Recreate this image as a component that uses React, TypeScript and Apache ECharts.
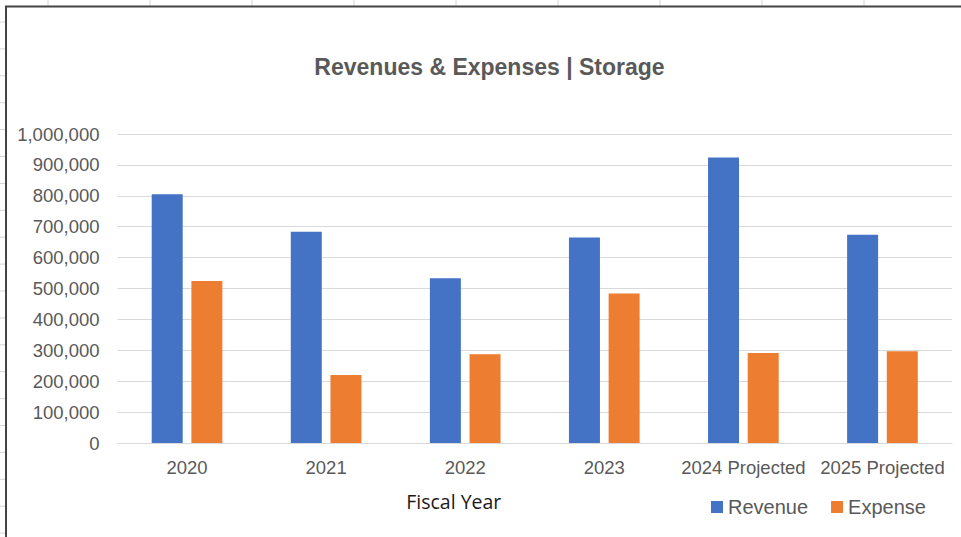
import React, { useEffect, useRef } from "react";
import * as echarts from "echarts";

const categories = ["2020", "2021", "2022", "2023", "2024 Projected", "2025 Projected"];
const revenue = [805000, 684000, 533000, 665000, 924000, 674000];
const expense = [524000, 220000, 287000, 484000, 291000, 297000];
const seriesNames = ["Revenue", "Expense"];
const titleText = "Revenues & Expenses | Storage";
const xAxisTitle = "Fiscal Year";
const yMin = 0;
const yMax = 1000000;
const yStep = 100000;

export default function App() {
  const ref = useRef<HTMLDivElement>(null);

  useEffect(() => {
    document.body.style.margin = "0";
    document.body.style.background = "#ffffff";
    if (!ref.current) return;
    const chart = echarts.init(ref.current, undefined, { renderer: "svg" });

    const sheet: any[] = [];
    for (let k = 0; k < 9; k++) {
      const x = 48 + 102 * k;
      sheet.push({
        type: "line",
        silent: true,
        shape: { x1: x, y1: 0, x2: x, y2: 6 },
        style: { stroke: "#d4d4d4", lineWidth: 1 },
      });
    }
    for (let k = 0; k < 20; k++) {
      const y = 22 + 26.9 * k;
      sheet.push({
        type: "line",
        silent: true,
        shape: { x1: 0, y1: y, x2: 5, y2: y },
        style: { stroke: "#d4d4d4", lineWidth: 1 },
      });
    }
    sheet.push({
      type: "rect",
      silent: true,
      shape: { x: 6, y: 6.5, width: 1100, height: 700 },
      style: { fill: "none", stroke: "#444444", lineWidth: 2 },
    });

    const font = "'Liberation Sans', Arial, sans-serif";

    chart.setOption({
      animation: false,
      backgroundColor: "#ffffff",
      textStyle: { fontFamily: font },
      title: {
        text: titleText,
        left: 489.5,
        top: 55,
        padding: 0,
        textAlign: "center",
        textStyle: { fontFamily: font, fontSize: 23, fontWeight: "bold", color: "#595959" },
      },
      legend: {
        data: seriesNames,
        left: 711,
        top: 497,
        padding: 0,
        icon: "rect",
        itemWidth: 12,
        itemHeight: 12,
        itemGap: 23,
        textStyle: { fontFamily: font, fontSize: 20, color: "#595959" },
      },
      grid: { left: 117.5, right: 9, top: 134, bottom: 94, containLabel: false },
      xAxis: {
        type: "category",
        data: categories,
        name: xAxisTitle,
        nameLocation: "middle",
        nameGap: 48,
        nameTextStyle: {
          fontFamily: "'Open Sans', 'Noto Sans', sans-serif",
          fontSize: 19.5,
          color: "#1a1a1a",
          padding: [0, 162, 0, 0],
        },
        axisTick: { show: false },
        axisLine: { lineStyle: { color: "#d9d9d9", width: 1 } },
        axisLabel: { color: "#595959", fontSize: 18.5, margin: 15, fontFamily: font, interval: 0 },
      },
      yAxis: {
        type: "value",
        min: yMin,
        max: yMax,
        interval: yStep,
        axisLine: { show: false },
        axisTick: { show: false },
        splitLine: { lineStyle: { color: "#d9d9d9", width: 1 } },
        axisLabel: {
          color: "#595959",
          fontSize: 18.5,
          margin: 18,
          fontFamily: font,
          formatter: (v: number) => v.toLocaleString("en-US"),
        },
      },
      series: [
        {
          name: seriesNames[0],
          type: "bar",
          data: revenue,
          barWidth: 31,
          barGap: "28%",
          itemStyle: { color: "#4472C4" },
        },
        {
          name: seriesNames[1],
          type: "bar",
          data: expense,
          barWidth: 31,
          barGap: "28%",
          itemStyle: { color: "#ED7D31" },
        },
      ],
      graphic: { elements: sheet },
    });

    return () => {
      chart.dispose();
    };
  }, []);

  return <div ref={ref} style={{ width: 961, height: 537 }} />;
}
